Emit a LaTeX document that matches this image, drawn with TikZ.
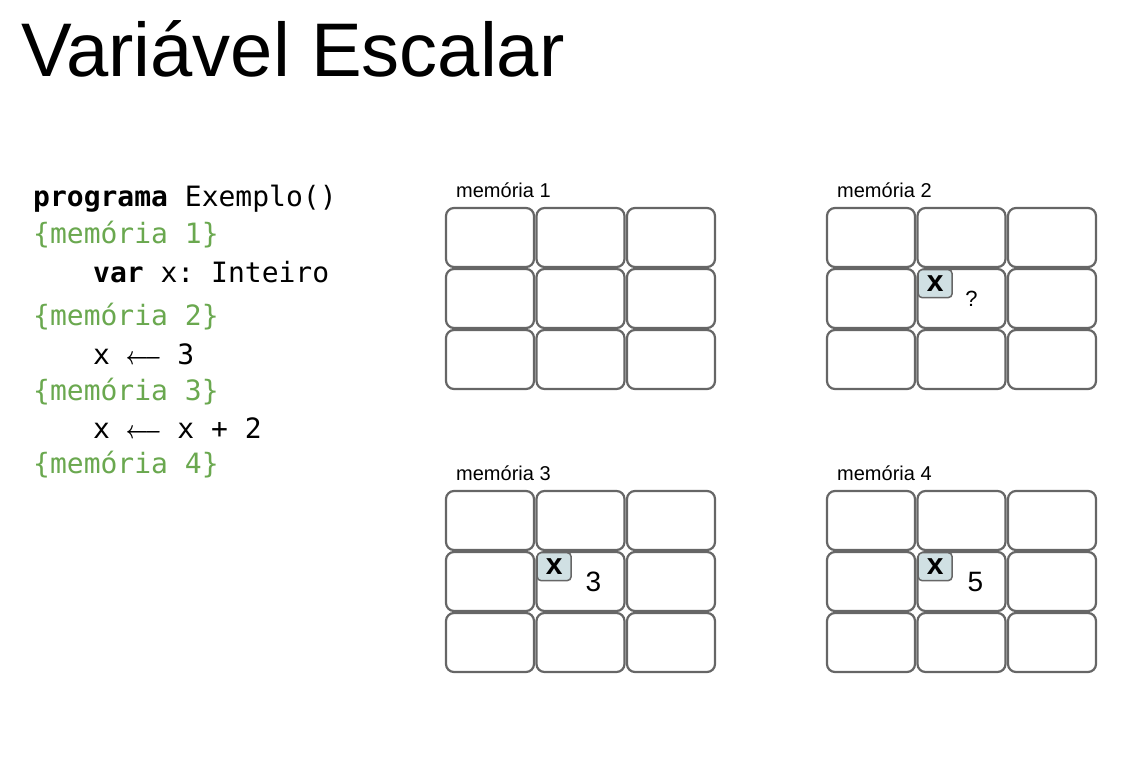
\documentclass[tikz,border=0pt]{standalone}
\usepackage{fontspec}
\setmainfont{Liberation Sans}
\setmonofont{DejaVu Sans Mono}
\definecolor{cellgray}{HTML}{666666}
\definecolor{boxblue}{HTML}{D0E0E3}
\definecolor{codegreen}{HTML}{6AA84F}
\newcommand{\larrow}{\makebox[1.204em][c]{\scalebox{0.78}[1]{\boldmath$\longleftarrow$}}}

\begin{document}
\begin{tikzpicture}[
    x = 1pt, y = -1pt,
    every node/.style = {inner sep = 0pt},
    cell/.style = {draw = cellgray, line width = 2.2pt, rounded corners = 8pt,
        minimum width = 88pt, minimum height = 59pt},
    varbox/.style = {draw = cellgray, fill = boxblue, line width = 1.5pt,
        rounded corners = 4pt, minimum width = 34pt, minimum height = 28pt,
        anchor = north west, font = \fontsize{30}{30}\selectfont\bfseries},
    memlabel/.style = {anchor = base west, font = \fontsize{20}{20}\selectfont},
    value/.style = {font = \fontsize{28}{28}\selectfont},
    code/.style = {anchor = base west, font = \fontsize{28}{28}\selectfont\ttfamily},
    comment/.style = {code, text = codegreen}]

\useasboundingbox (0,0) rectangle (1121,778);

\node[anchor = base west, font = \fontsize{76}{76}\selectfont] (title) at (21,77) {Variável Escalar};

\path (33,207) node[code] (prog) {\textbf{programa} Exemplo()}
      (33,243) node[comment] (mem1) {\{memória 1\}}
      (93,282) node[code] (decl) {\textbf{var} x: Inteiro}
      (33,325) node[comment] (mem2) {\{memória 2\}}
      (93,364) node[code] (atr1) {x \larrow{} 3}
      (33,400) node[comment] (mem3) {\{memória 3\}}
      (93,438) node[code] (atr2) {x \larrow{} x + 2}
      (33,473) node[comment] (mem4) {\{memória 4\}};

\foreach \m/\ox/\oy in {1/445/207, 2/826/207, 3/445/490, 4/826/490} {
    \node[memlabel] (lbl\m) at (\ox+11,\oy-10) {memória \m};
    \foreach \r in {1,2,3} {
        \foreach \c in {1,2,3} {
            \node[cell] (m\m-\r\c) at (\ox+45+\c*90.5-90.5, \oy+30.5+\r*61-61) {};
        }
    }
}

\node[varbox] (x2) at ([shift={(1,1)}]m2-22.north west) {x};
\node[varbox] (x3) at ([shift={(1,1)}]m3-22.north west) {x};
\node[varbox] (x4) at ([shift={(1,1)}]m4-22.north west) {x};

\node[value, font = \fontsize{22}{22}\selectfont] (v2) at ([xshift=10pt]m2-22.center) {?};
\node[value] (v3) at ([xshift=13pt]m3-22.center) {3};
\node[value] (v4) at ([xshift=14pt]m4-22.center) {5};
\end{tikzpicture}
\end{document}
